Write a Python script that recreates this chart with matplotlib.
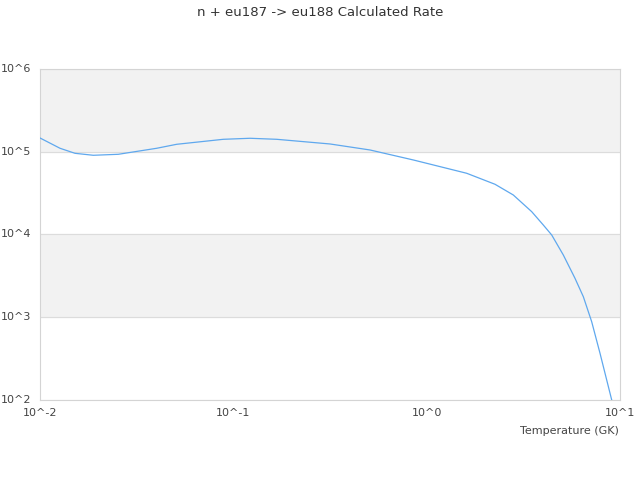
import matplotlib
matplotlib.use('Agg')
import matplotlib.pyplot as plt

# rate curve (T in GK)
temperature = [0.01, 0.01269, 0.01517, 0.01887, 0.02541, 0.04015, 0.05094, 0.08873,
               0.1220, 0.1676, 0.3162, 0.5091, 0.8531, 1.611, 2.257, 2.806,
               3.494, 4.011, 4.434, 5.091, 5.850, 6.461, 7.136, 7.881, 9.06, 10.0]
rate = [146600, 110100, 95700, 90600, 93100, 110100, 123000, 141300,
        145400, 141300, 124100, 105000, 79500, 54900, 40430, 30010,
        18860, 13020, 9860, 5650, 2956, 1772, 884, 367, 100, 42]

xticks = [0.01, 0.1, 1, 10]
xtick_labels = ['10^-2', '10^-1', '10^0', '10^1']
yticks = [1e2, 1e3, 1e4, 1e5, 1e6]
ytick_labels = ['10^2', '10^3', '10^4', '10^5', '10^6']

fig = plt.figure(figsize=(6.4, 4.8), dpi=100)
ax = fig.add_axes([0.0625, 0.1667, 0.90625, 0.6896])

ax.axhspan(1e5, 1e6, color='#f2f2f2', zorder=0)
ax.axhspan(1e3, 1e4, color='#f2f2f2', zorder=0)
for yv in yticks:
    ax.axhline(yv, color='#dcdcdc', linewidth=0.8, zorder=1)

ax.plot(temperature, rate, color='#5fa8ee', linewidth=0.9, zorder=3)

ax.set_xscale('log')
ax.set_yscale('log')
ax.set_xlim(0.01, 10)
ax.set_ylim(1e2, 1e6)
ax.set_xticks(xticks)
ax.set_xticklabels(xtick_labels)
ax.set_yticks(yticks)
ax.set_yticklabels(ytick_labels)
ax.minorticks_off()
ax.tick_params(length=0, labelsize=8, colors='#444444', pad=6)
for lbl in ax.get_yticklabels():
    lbl.set_verticalalignment('center')
for s in ax.spines.values():
    s.set_color('#d4d4d4')
    s.set_linewidth(0.8)

fig.text(0.5, 0.975, 'n + eu187 -> eu188 Calculated Rate', ha='center', va='center',
         fontsize=9.5, color='#333333')
fig.text(0.967, 0.102, 'Temperature (GK)', ha='right', va='center',
         fontsize=8, color='#444444')

plt.savefig('out.png', dpi=100)
